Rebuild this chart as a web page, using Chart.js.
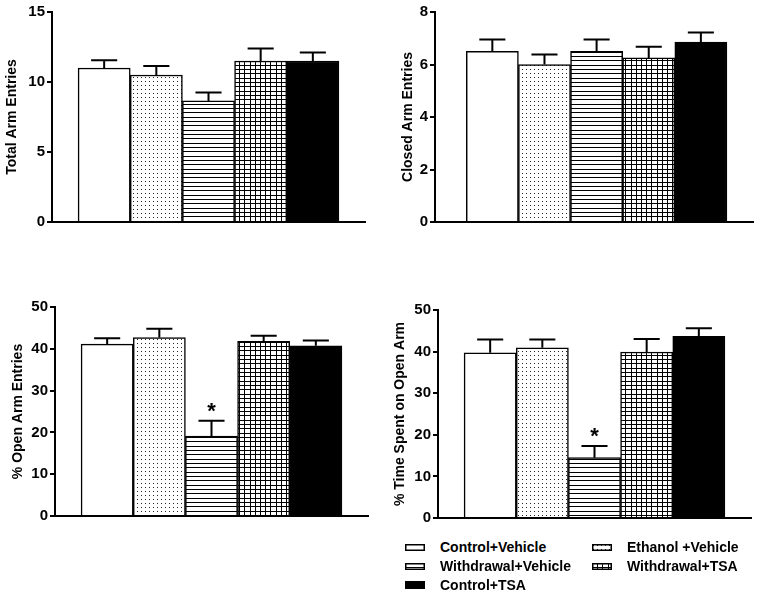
<!DOCTYPE html>
<html>
<head>
<meta charset="utf-8">
<script src="https://cdn.jsdelivr.net/npm/chart.js@4.4.0/dist/chart.umd.min.js"></script>
<style>
    body { margin: 0; background: #fff; width: 762px; height: 597px; position: relative; overflow: hidden; }
    canvas.panel { position: absolute; }
    #legend { position: absolute; left: 405px; top: 538px; display: grid; grid-template-columns: 187px auto; grid-auto-rows: 18.7px;
              font: bold 14px 'Liberation Sans', Arial, sans-serif; color: #000; }
    #legend div { display: flex; align-items: center; white-space: nowrap; }
    #legend canvas { margin-right: 15px; }
</style>
</head>
<body>
<canvas id="c1" class="panel"></canvas>
<canvas id="c2" class="panel"></canvas>
<canvas id="c3" class="panel"></canvas>
<canvas id="c4" class="panel"></canvas>
<div id="legend"></div>
<script>
// groups, in bar order
const groups = ['Control+Vehicle', 'Ethanol +Vehicle', 'Withdrawal+Vehicle', 'Withdrawal+TSA', 'Control+TSA'];
const fillKinds = ['white', 'dots', 'hlines', 'grid', 'black'];
const xPos = [0, 1, 2, 3, 4];

// values (mean and SEM)
const totalMean = [11.0, 10.5, 8.65, 11.5, 11.5];
const totalSem = [0.55, 0.65, 0.6, 0.9, 0.6];
const closedMean = [6.5, 6.0, 6.5, 6.25, 6.85];
const closedSem = [0.45, 0.38, 0.45, 0.43, 0.37];
const openMean = [41.1, 42.7, 19.1, 41.8, 40.7];
const openSem = [1.4, 2.1, 3.7, 1.3, 1.3];
const timeMean = [39.7, 40.9, 14.5, 39.9, 43.7];
const timeSem = [3.2, 2.0, 2.8, 3.1, 1.9];
const noSig = [false, false, false, false, false];
const withdrawalSig = [false, false, true, false, false];

const panels = [
    { id: 'c1', title: 'Total Arm Entries', mean: totalMean, sem: totalSem, max: 15, step: 5, sig: noSig },
    { id: 'c2', title: 'Closed Arm Entries', mean: closedMean, sem: closedSem, max: 8, step: 2, sig: noSig },
    { id: 'c3', title: '% Open Arm Entries', mean: openMean, sem: openSem, max: 50, step: 10, sig: withdrawalSig },
    { id: 'c4', title: '% Time Spent on Open Arm', mean: timeMean, sem: timeSem, max: 50, step: 10, sig: withdrawalSig }
];

// where each panel sits on the page
const boxes = [
    { left: 0, top: 0, w: 381, h: 240, yW: 52, pad: { top: 12, right: 16, bottom: 18, left: 0 }, xMin: -1, titlePad: 4 },
    { left: 381, top: 0, w: 381, h: 240, yW: 54, pad: { top: 12, right: 9, bottom: 18, left: 0 }, xMin: -1.1, titlePad: 19 },
    { left: 0, top: 290, w: 381, h: 240, yW: 55, pad: { top: 17, right: 13, bottom: 14, left: 0 }, xMin: -1, titlePad: 10 },
    { left: 381, top: 290, w: 381, h: 240, yW: 57, pad: { top: 20, right: 11, bottom: 12, left: 0 }, xMin: -1, titlePad: 11 }
];

const FONT = "'Liberation Sans', Arial, sans-serif";

function makeFill(kind) {
    if (kind === 'white') return '#fff';
    if (kind === 'black') return '#000';
    const c = document.createElement('canvas');
    const g = c.getContext('2d');
    if (kind === 'dots') {
        c.width = 4; c.height = 4;
        g.fillStyle = '#fff'; g.fillRect(0, 0, 4, 4);
        g.fillStyle = '#222'; g.fillRect(1, 1, 1, 1);
    } else if (kind === 'hlines') {
        c.width = 4; c.height = 13;
        g.fillStyle = '#fff'; g.fillRect(0, 0, 4, 13);
        g.fillStyle = '#000';
        [0, 4, 8].forEach(y => g.fillRect(0, y, 4, 1));
    } else if (kind === 'grid') {
        c.width = 26; c.height = 13;
        g.fillStyle = '#fff'; g.fillRect(0, 0, 26, 13);
        g.fillStyle = '#000';
        [0, 4, 8].forEach(y => g.fillRect(0, y, 26, 1));
        [0, 5, 10, 16, 21].forEach(x => g.fillRect(x, 0, 1, 13));
    }
    return g.createPattern(c, 'repeat');
}

const fills = fillKinds.map(makeFill);

// error bars (upper half only) and significance stars
const errorBars = {
    id: 'errorBars',
    afterDatasetsDraw(chart, args, opts) {
        const ctx = chart.ctx;
        const y = chart.scales.y;
        const meta = chart.getDatasetMeta(0);
        ctx.save();
        ctx.strokeStyle = '#000';
        ctx.lineWidth = 2;
        ctx.fillStyle = '#000';
        ctx.font = 'bold 22px ' + FONT;
        ctx.textAlign = 'center';
        meta.data.forEach((bar, i) => {
            const base = y.getPixelForValue(opts.mean[i]);
            const top = y.getPixelForValue(opts.mean[i] + opts.sem[i]);
            const half = bar.width / 4;
            ctx.beginPath();
            ctx.moveTo(bar.x, base);
            ctx.lineTo(bar.x, top);
            ctx.moveTo(bar.x - half, top);
            ctx.lineTo(bar.x + half, top);
            ctx.stroke();
            if (opts.sig[i]) ctx.fillText('*', bar.x, top - 3);
        });
        ctx.restore();
    }
};

panels.forEach((p, k) => {
    const b = boxes[k];
    const cv = document.getElementById(p.id);
    cv.width = b.w; cv.height = b.h;
    cv.style.left = b.left + 'px'; cv.style.top = b.top + 'px';
    new Chart(cv.getContext('2d'), {
        type: 'bar',
        data: {
            datasets: [{
                data: xPos.map((x, i) => ({ x: x, y: p.mean[i] })),
                backgroundColor: fills,
                borderColor: '#000',
                borderWidth: 1.5,
                barPercentage: 1,
                categoryPercentage: 1
            }]
        },
        options: {
            responsive: false,
            animation: false,
            layout: { padding: b.pad },
            plugins: {
                legend: { display: false },
                tooltip: { enabled: false },
                errorBars: { mean: p.mean, sem: p.sem, sig: p.sig }
            },
            scales: {
                x: {
                    type: 'linear',
                    offset: false,
                    min: b.xMin,
                    max: 5,
                    afterBuildTicks: s => { s.ticks = xPos.map(v => ({ value: v })); },
                    afterFit: s => { s.height = 0; },
                    ticks: { display: false },
                    grid: { display: false },
                    border: { color: '#000', width: 2 }
                },
                y: {
                    min: 0,
                    max: p.max,
                    afterFit: s => { s.width = b.yW; },
                    ticks: { stepSize: p.step, color: '#000', padding: 2, font: { family: FONT, size: 15, weight: 'bold' } },
                    grid: { drawOnChartArea: false, color: '#000', lineWidth: 2, tickLength: 5 },
                    border: { color: '#000', width: 2 },
                    title: { display: true, text: p.title, color: '#000', padding: { top: b.titlePad, bottom: 0 },
                             font: { family: FONT, size: 14, weight: 'bold' } }
                }
            }
        },
        plugins: [errorBars]
    });
});

// legend, two columns like the figure
const legend = document.getElementById('legend');
groups.forEach((name, i) => {
    const item = document.createElement('div');
    const sw = document.createElement('canvas');
    sw.width = 20; sw.height = fillKinds[i] === 'black' ? 8 : 7;
    const g = sw.getContext('2d');
    g.fillStyle = fills[i];
    g.fillRect(0, 0, sw.width, sw.height);
    g.strokeStyle = '#000';
    g.lineWidth = 1.5;
    g.strokeRect(0.75, 0.75, sw.width - 1.5, sw.height - 1.5);
    const label = document.createElement('span');
    label.textContent = name;
    item.appendChild(sw);
    item.appendChild(label);
    legend.appendChild(item);
});
</script>
</body>
</html>
